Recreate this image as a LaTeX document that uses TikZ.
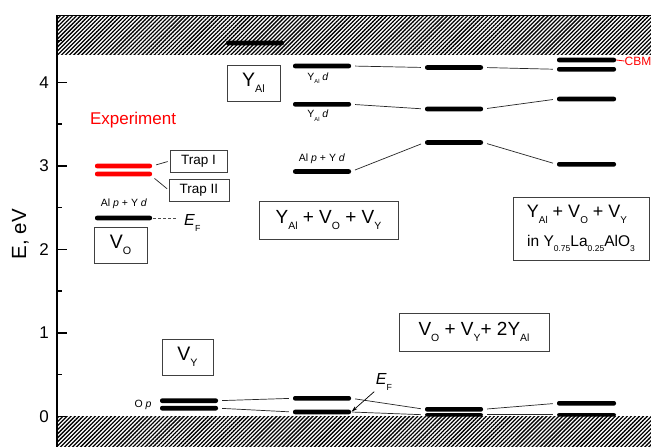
\documentclass[tikz,border=0pt]{standalone}
\usepackage{fontspec}
\setmainfont{Liberation Sans}
\usetikzlibrary{patterns.meta,arrows.meta}
\newcommand\lowsub[1]{\raisebox{-0.33em}{\scalebox{0.55}{#1}}}
\newcommand\fsz[1]{\fontsize{#1}{#1}\selectfont}
\begin{document}
\begin{tikzpicture}[x=1pt,y=-1pt,
  lev/.style={rectangle,fill=black,minimum width=58pt,minimum height=4.6pt,inner sep=0pt,rounded corners=2pt},
  levr/.style={lev,fill=red},
  conn/.style={line width=0.7pt,black!85,shorten <=4pt,shorten >=4pt},
  box/.style={draw=black!75,line width=0.8pt,inner sep=0pt},
  hatch/.style={pattern={Lines[angle=45,distance=2.85pt,line width=1.3pt]}},
  small/.style={font=\fsz{10.5},inner sep=0pt},
  ticklab/.style={font=\fsz{17},anchor=east,inner sep=0pt}
]
\useasboundingbox (0,0) rectangle (651,447);
\fill[white] (0,0) rectangle (651,447);
% hatched bands
\fill[hatch] (57,15) rectangle (651,54);
\fill[hatch] (57,416.7) rectangle (651,447);
\draw[line width=1pt] (57,15) -- (651,15);
% axis
\draw[line width=2pt] (57,15) -- (57,447);
\foreach \yy/\lab in {416.5/0,333/1,249.5/2,166/3,82.5/4}{
  \draw[line width=1.5pt] (57,\yy) -- (67,\yy);
  \node[ticklab] (tl\lab) at (49,\yy) {\lab};
}
\foreach \yy in {374.7,291.2,207.7,124.2,40.7}{
  \draw[line width=1.5pt] (57,\yy) -- (62,\yy);
}
\node[font=\fsz{20.5},rotate=90,inner sep=0pt] (axlab) at (20.5,234) {E, eV};

% experiment column
\node[text=red,font=\fsz{17},inner sep=0pt] (exp) at (133,120) {Experiment};
\node[levr,minimum width=57pt] (r1) at (123.5,166) {};
\node[levr,minimum width=57pt] (r2) at (123.5,174) {};
\node[box,minimum width=57pt,minimum height=22pt,font=\fsz{13.5}] (tr1) at (198.5,161) {Trap I};
\node[box,minimum width=60pt,minimum height=22pt,font=\fsz{13.5}] (tr2) at (199,190) {Trap II};
\draw[line width=0.7pt,black!85,shorten <=4pt,shorten >=2pt] (r1.east) -- (tr1.west);
\draw[line width=0.7pt,black!85,shorten <=3pt,shorten >=2pt] (r2.south east) -- (tr2.west);

% V_O
\node[lev,minimum width=57pt] (vo) at (123.5,218) {};
\node[small] (volab) at (124,204) {Al \textit{p} + Y \textit{d}};
\coordinate (efd) at (177,218);
\draw[black!70,line width=0.8pt,dash pattern=on 3pt off 2pt,shorten <=1pt] (vo.east) -- (efd);
\node[font=\fsz{16},inner sep=0pt,anchor=west] (ef1) at (184,223) {\textit{E}\lowsub{F}};
\node[box,minimum width=53pt,minimum height=36pt,font=\fsz{19.5}] (vobox) at (120.5,245) {V\lowsub{O}};

% Y_Al
\node[lev] (ya) at (255,43) {};
\node[box,minimum width=53pt,minimum height=36pt,font=\fsz{19.5}] (yabox) at (253.5,83) {Y\lowsub{Al}};

% column 2
\node[lev] (c2a) at (322,66) {};
\node[lev] (c2b) at (322,104.3) {};
\node[lev] (c2c) at (322,171.5) {};
\node[small] (c2al) at (318,78) {Y\lowsub{Al} \textit{d}};
\node[small] (c2bl) at (318,115.5) {Y\lowsub{Al} \textit{d}};
\node[small] (c2cl) at (322,159) {Al \textit{p} + Y \textit{d}};

% column 3
\node[lev] (c3a) at (454,67.5) {};
\node[lev] (c3b) at (454,109) {};
\node[lev] (c3c) at (454,142.5) {};

% column 4
\node[lev,minimum width=59pt] (c4a) at (586.5,60) {};
\node[lev,minimum width=59pt] (c4b) at (586.5,69.3) {};
\node[lev,minimum width=59pt] (c4c) at (586.5,99) {};
\node[lev,minimum width=59pt] (c4d) at (586.5,164.3) {};
\node[text=red,font=\fsz{12},inner sep=0pt,anchor=west] (cbm) at (624.5,61) {CBM};
\draw[red,line width=0.8pt] (c4a.east) -- (cbm.west);

\draw[conn] (c2a.east) -- (c3a.west);
\draw[conn] (c3a.east) -- (c4b.west);
\draw[conn] (c2b.east) -- (c3b.west);
\draw[conn] (c3b.east) -- (c4c.west);
\draw[conn] (c2c.east) -- (c3c.west);
\draw[conn] (c3c.east) -- (c4d.west);

% boxes
\node[box,minimum width=139pt,minimum height=38pt,font=\fsz{19}] (midbox) at (328.5,220) {Y\lowsub{Al} + V\lowsub{O} + V\lowsub{Y}};
\node[box,minimum width=136pt,minimum height=63pt] (rbox) at (581,228.5) {};
\node[font=\fsz{18},inner sep=0pt] (rbox1) at (577,214) {Y\lowsub{Al} + V\lowsub{O} + V\lowsub{Y}};
\node[font=\fsz{15.5},inner sep=0pt] (rbox2) at (581,243) {in Y\lowsub{0.75}La\lowsub{0.25}AlO\lowsub{3}};
\node[box,minimum width=150pt,minimum height=38pt,font=\fsz{19}] (botbox) at (474,332) {V\lowsub{O} + V\lowsub{Y}+ 2Y\lowsub{Al}};
\node[box,minimum width=51pt,minimum height=36pt,font=\fsz{19.5}] (vybox) at (187.5,357) {V\lowsub{Y}};

% bottom levels
\node[lev] (v1) at (189,400.7) {};
\node[lev] (v2) at (189,408.2) {};
\node[small] (op) at (143,404.5) {O \textit{p}};
\node[lev] (c2d) at (322,398.3) {};
\node[lev] (c2e) at (322,412) {};
\node[lev] (c3d) at (454,409.3) {};
\node[lev,minimum height=3.5pt] (c3e) at (454,414.8) {};
\node[lev,minimum width=59pt] (c4e) at (586.5,403.3) {};
\node[lev,minimum width=59pt,minimum height=3.5pt] (c4f) at (586.5,414.8) {};

\draw[conn] (v1.east) -- (c2d.west);
\draw[conn] (v2.east) -- (c2e.west);
\draw[conn] (c2d.east) -- (c3d.west);
\draw[conn,shorten <=1pt] (c2e.east) -- (c3e.west);
\draw[conn] (c3d.east) -- (c4e.west);
\draw[conn] (c3e.east) -- (c4f.west);

\node[font=\fsz{16},inner sep=0pt] (ef2) at (384,382) {\textit{E}\lowsub{F}};
\draw[line width=0.7pt,-{Stealth[length=6pt,width=3.5pt]},shorten <=2pt,shorten >=0.5pt] (ef2.south west) -- (c2e.east);
\end{tikzpicture}
\end{document}
